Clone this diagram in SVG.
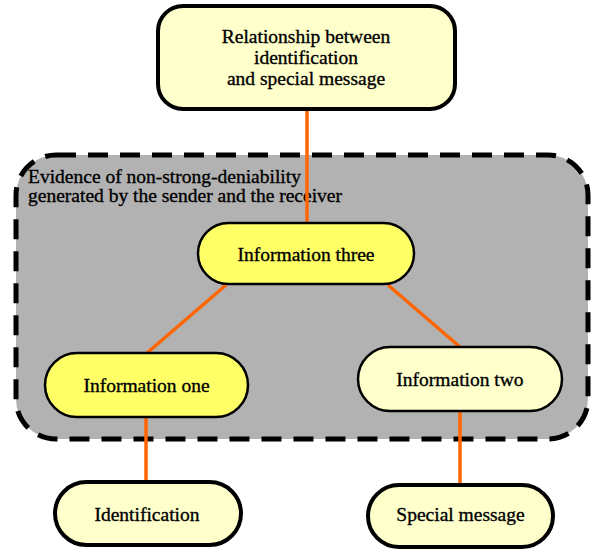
<svg xmlns="http://www.w3.org/2000/svg" width="592" height="552" viewBox="0 0 592 552">
<style>
text{font-family:"Liberation Serif","Times New Roman",serif;font-size:19.5px;fill:#000;stroke:#000;stroke-width:0.35}
.c{text-anchor:middle}
.outer{stroke:#000;stroke-width:4}
.inner{stroke:#000;stroke-width:2.5}
.lt{fill:#ffffcc}
.yl{fill:#ffff66}
.conn line{stroke:#ff6600;stroke-width:3.5}
</style>
<rect width="592" height="552" fill="#fff"/>
<g id="group">
<rect x="16" y="155" width="572" height="284" rx="40" fill="#b2b2b2" stroke="#000" stroke-width="5" stroke-dasharray="20 12"/>
<text x="28" y="183">Evidence of non-strong-deniability</text>
<text x="28" y="202">generated by the sender and the receiver</text>
</g>
<g class="conn" id="connectors">
<line x1="307" y1="111" x2="307" y2="223"/>
<line x1="226" y1="285" x2="147" y2="353"/>
<line x1="388" y1="285" x2="460" y2="347"/>
<line x1="146" y1="417" x2="146" y2="482"/>
<line x1="460" y1="411" x2="460" y2="485"/>
</g>
<g id="top">
<rect class="outer lt" x="158" y="6" width="297" height="103" rx="25"/>
<text class="c" x="306" y="43">Relationship between</text>
<text class="c" x="306" y="64">identification</text>
<text class="c" x="306" y="85">and special message</text>
</g>
<g id="info3">
<rect class="inner yl" x="198" y="223" width="216" height="61" rx="30.5"/>
<text class="c" x="306" y="260.5">Information three</text>
</g>
<g id="info1">
<rect class="inner yl" x="45" y="353" width="203" height="64" rx="32"/>
<text class="c" x="146.5" y="392">Information one</text>
</g>
<g id="info2">
<rect class="inner lt" x="358" y="347" width="204" height="64" rx="32"/>
<text class="c" x="460" y="386">Information two</text>
</g>
<g id="ident">
<rect class="outer lt" x="55" y="482" width="186" height="63" rx="31.5"/>
<text class="c" x="147" y="521">Identification</text>
</g>
<g id="special">
<rect class="outer lt" x="368" y="485" width="185" height="62" rx="31"/>
<text class="c" x="460.5" y="521">Special message</text>
</g>
</svg>
